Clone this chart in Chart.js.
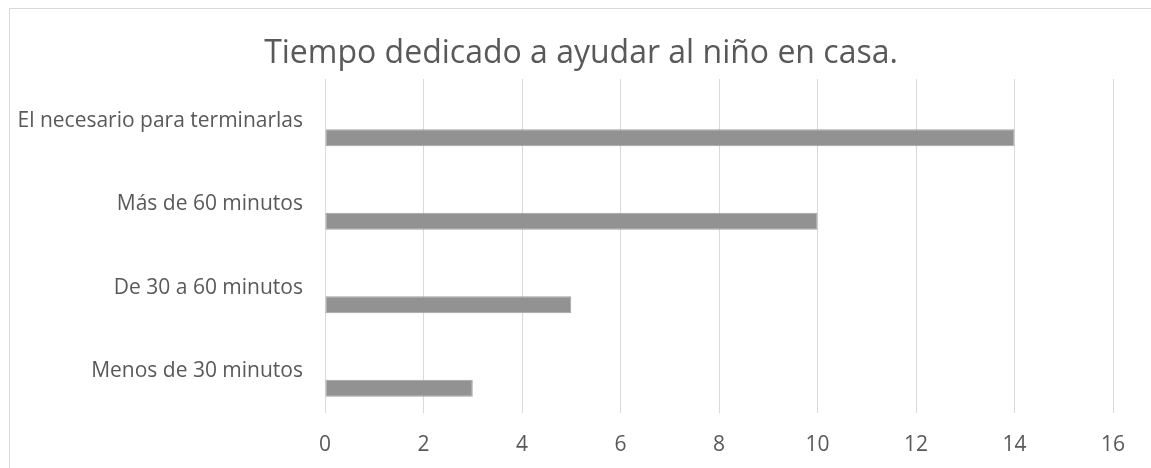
<!DOCTYPE html>
<html>
<head>
<meta charset="utf-8">
<script src="https://cdn.jsdelivr.net/npm/chart.js@4"></script>
<style>
  html, body { margin: 0; padding: 0; background: #fff; overflow: hidden; }
  #wrap { position: relative; width: 1151px; height: 468px; }
  #frame { position: absolute; left: 9px; top: 8px; width: 1200px; height: 500px; border: 1px solid #d9d9d9; box-sizing: border-box; }
  canvas { position: absolute; left: 0; top: 0; }
</style>
</head>
<body>
<div id="wrap">
  <div id="frame"></div>
  <canvas id="chart" width="1151" height="468"></canvas>
</div>
<script>
// Data
const categories = ['El necesario para terminarlas', 'Más de 60 minutos', 'De 30 a 60 minutos', 'Menos de 30 minutos'];
const values = [14, 10, 5, 3];
const emptySeries = [null, null, null, null];
const xTicks = [0, 2, 4, 6, 8, 10, 12, 14, 16];
const chartTitle = 'Tiempo dedicado a ayudar al niño en casa.';

const textColor = '#595959';
const gridColor = '#d9d9d9';
const fontFamily = '"Open Sans", "Liberation Sans", sans-serif';

// Title drawn by hand so it can sit a bit right of the plot centre, like the original
const titlePlugin = {
    id: 'offsetTitle',
    afterDraw(chart) {
        const c = chart.ctx;
        c.save();
        c.font = '32px ' + fontFamily;
        c.fillStyle = textColor;
        c.textAlign = 'center';
        c.textBaseline = 'alphabetic';
        c.fillText(chartTitle, 581, 63);
        c.restore();
    }
};

const ctx = document.getElementById('chart').getContext('2d');
const chart = new Chart(ctx, {
    type: 'bar',
    data: {
        labels: categories,
        datasets: [{
            label: '',
            data: emptySeries,
            backgroundColor: 'transparent'
        }, {
            label: '',
            data: emptySeries,
            backgroundColor: 'transparent'
        }, {
            label: 'Tiempo',
            data: values,
            backgroundColor: '#929292',
            borderColor: '#a3a3a3',
            borderWidth: 1,
            borderSkipped: false
        }]
    },
    options: {
        indexAxis: 'y',
        responsive: false,
        animation: false,
        categoryPercentage: 0.61,
        barPercentage: 1,
        layout: {
            padding: { left: 0, right: 38, top: 79, bottom: 0 }
        },
        scales: {
            x: {
                min: xTicks[0],
                max: xTicks[xTicks.length - 1],
                afterBuildTicks: function(scale) {
                    scale.ticks = xTicks.map(v => ({ value: v }));
                },
                afterFit: function(scale) {
                    scale.height = 55;
                },
                grid: {
                    color: gridColor,
                    lineWidth: 1,
                    drawTicks: false
                },
                border: { display: false },
                ticks: {
                    color: textColor,
                    padding: 19,
                    font: { family: fontFamily, size: 21 }
                }
            },
            y: {
                afterFit: function(scale) {
                    scale.width = 325;
                },
                grid: { display: false, drawTicks: false },
                border: { display: false },
                ticks: {
                    color: textColor,
                    padding: 22,
                    font: { family: fontFamily, size: 21 }
                }
            }
        },
        plugins: {
            legend: { display: false },
            tooltip: { enabled: false },
            title: { display: false }
        }
    },
    plugins: [titlePlugin]
});
</script>
</body>
</html>
